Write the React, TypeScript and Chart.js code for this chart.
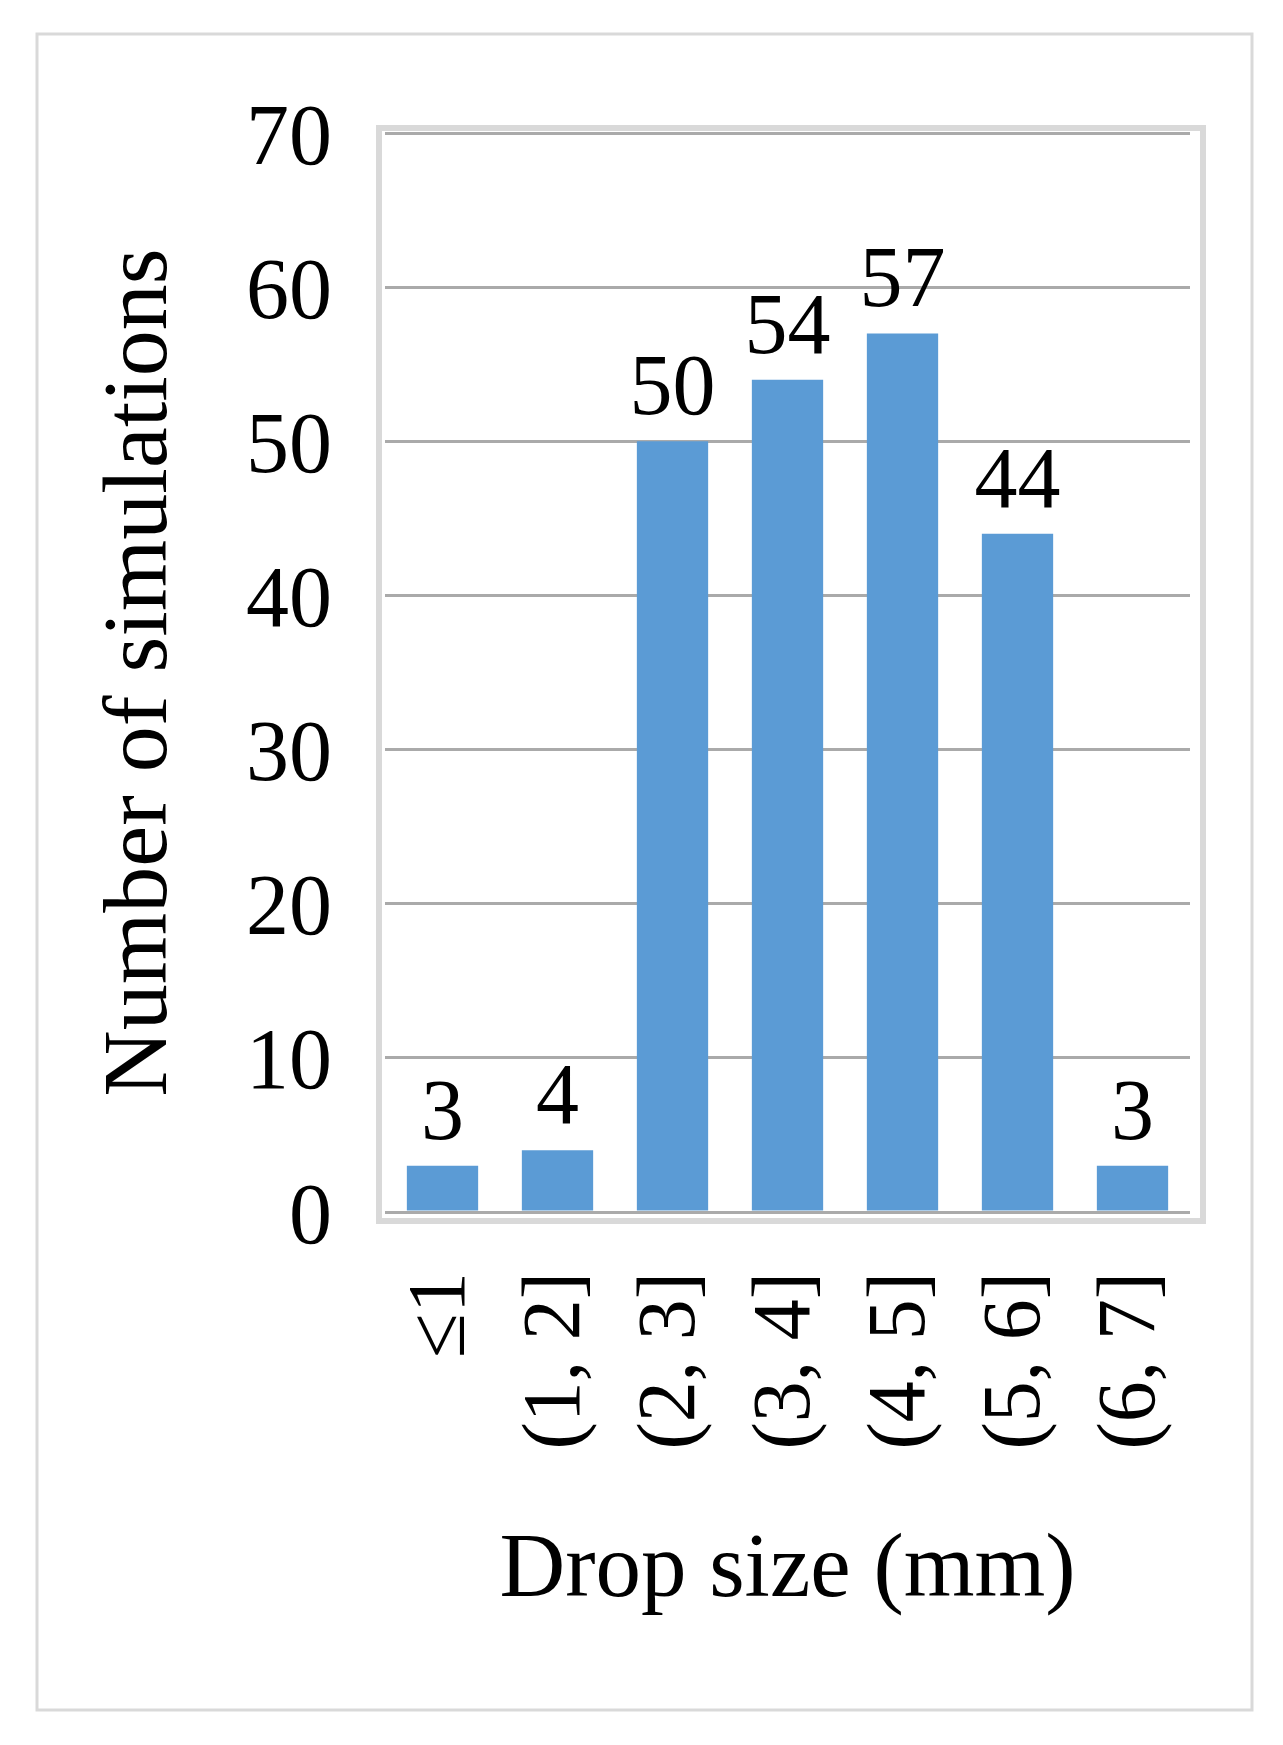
import React, { useEffect, useRef } from "react";
import { Chart, registerables } from "chart.js";

Chart.register(...registerables);

const categories = ["≤1", "(1, 2]", "(2, 3]", "(3, 4]", "(4, 5]", "(5, 6]", "(6, 7]"];
const simulations = [3, 4, 50, 54, 57, 44, 3];
const yTicks = [0, 10, 20, 30, 40, 50, 60, 70];

const FONT = "'Liberation Serif', 'Times New Roman', serif";
const W = 1283;
const H = 1745;

const framePlugin = {
  id: "frames",
  beforeDraw(chart: any) {
    const { ctx, chartArea } = chart;
    ctx.save();
    ctx.fillStyle = "#ffffff";
    ctx.fillRect(0, 0, chart.width, chart.height);
    // outer border
    ctx.strokeStyle = "#d9d9d9";
    ctx.lineWidth = 3;
    ctx.strokeRect(37, 34, 1215, 1676);
    // plot area frame
    ctx.lineWidth = 6;
    ctx.strokeStyle = "#d9d9d9";
    ctx.strokeRect(
      chartArea.left - 6,
      chartArea.top - 5,
      chartArea.right - chartArea.left + 19,
      chartArea.bottom - chartArea.top + 14
    );
    ctx.restore();
  },
};

const labelPlugin = {
  id: "valueLabels",
  afterDatasetsDraw(chart: any) {
    const { ctx } = chart;
    const meta = chart.getDatasetMeta(0);
    const data = chart.data.datasets[0].data;
    ctx.save();
    ctx.fillStyle = "#000000";
    ctx.font = `86px ${FONT}`;
    ctx.textAlign = "center";
    ctx.textBaseline = "alphabetic";
    meta.data.forEach((bar: any, i: number) => {
      ctx.fillText(String(data[i]), bar.x, bar.y - 27);
    });
    ctx.restore();
  },
};

export default function App() {
  const ref = useRef<HTMLCanvasElement | null>(null);

  useEffect(() => {
    document.body.style.margin = "0";
    if (!ref.current) return;
    const chart = new Chart(ref.current, {
      type: "bar",
      data: {
        labels: categories,
        datasets: [
          {
            data: simulations,
            backgroundColor: "#5b9bd5",
            borderWidth: 0,
            barPercentage: 0.62,
            categoryPercentage: 1,
          },
        ],
      },
      options: {
        responsive: false,
        animation: false,
        devicePixelRatio: 1,
        layout: { padding: { left: 96, right: 93, top: 133, bottom: 127 } },
        plugins: {
          legend: { display: false },
          tooltip: { enabled: false },
        },
        scales: {
          x: {
            grid: { display: false, drawTicks: false },
            border: { display: false },
            ticks: {
              autoSkip: false,
              minRotation: 90,
              maxRotation: 90,
              padding: 60,
              color: "#000000",
              font: { family: FONT, size: 82, lineHeight: 1 },
            },
            title: {
              display: true,
              text: "Drop size (mm)",
              color: "#000000",
              padding: { top: 0, bottom: 0 },
              font: { family: FONT, size: 91, lineHeight: 1 },
            },
            afterFit(scale: any) {
              scale.height = 406;
            },
          },
          y: {
            min: 0,
            max: 70,
            afterBuildTicks(scale: any) {
              scale.ticks = yTicks.map((v) => ({ value: v }));
            },
            grid: { color: "#aaaaaa", lineWidth: 3, drawTicks: false },
            border: { display: false },
            ticks: {
              padding: 53,
              labelOffset: 8,
              color: "#000000",
              font: { family: FONT, size: 86, lineHeight: 1 },
            },
            title: {
              display: true,
              text: "Number of simulations",
              color: "#000000",
              padding: { top: 0, bottom: 0 },
              font: { family: FONT, size: 92, lineHeight: 1 },
            },
            afterFit(scale: any) {
              scale.width = 289;
            },
          },
        },
      },
      plugins: [framePlugin, labelPlugin],
    });
    return () => chart.destroy();
  }, []);

  return (
    <canvas
      ref={ref}
      width={W}
      height={H}
      style={{ display: "block", width: W, height: H }}
    />
  );
}
